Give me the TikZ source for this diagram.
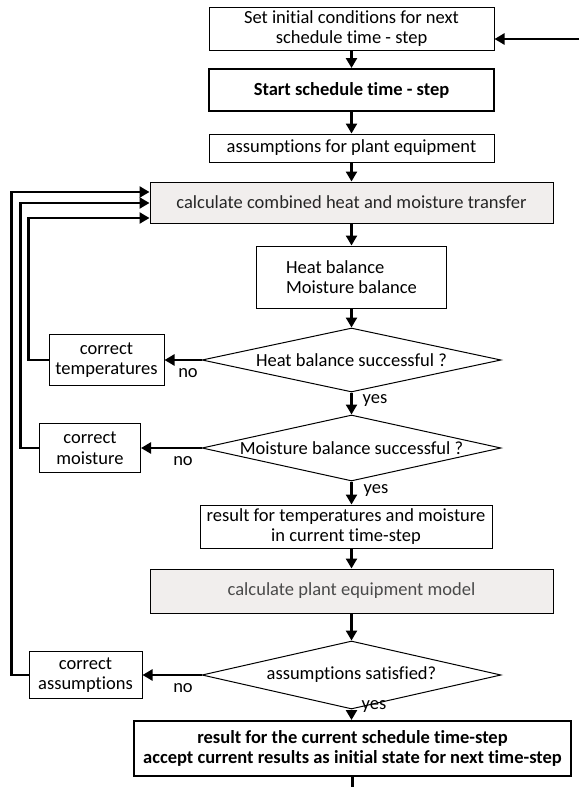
\documentclass[tikz,border=0pt]{standalone}
\usepackage{fontspec}
\setmainfont{Carlito}[Ligatures={NoCommon,NoDiscretionary,NoContextual}]
\usetikzlibrary{arrows.meta,shapes.geometric,calc}
\definecolor{boxgray}{HTML}{F1EEED}
\definecolor{txtdark}{HTML}{262626}
\definecolor{txtgray}{HTML}{4A4A4A}
\begin{document}
\begin{tikzpicture}[x=1pt,y=-1pt,
  every node/.style={font=\fontsize{18.5}{20.5}\selectfont},
  box/.style={draw, line width=1pt, inner sep=0pt, align=center},
  thickbox/.style={box, line width=2pt, font=\fontsize{18.5}{20.5}\selectfont\bfseries},
  greybox/.style={box, fill=boxgray},
  dia/.style={draw, diamond, line width=1pt, inner sep=0pt},
  conn/.style={line width=2.4pt, -{Triangle[length=10pt,width=11pt]}},
  plain/.style={line width=2.4pt},
  lbl/.style={inner sep=0pt}]
\useasboundingbox (0,0) rectangle (579,787);

% main column
\node[box, minimum width=285pt, minimum height=43pt] (b1) at (351.5,28.5) {Set initial conditions for next\\schedule time - step};
\node[thickbox, minimum width=285pt, minimum height=42pt] (b2) at (351.5,90) {Start schedule time - step};
\node[box, minimum width=285pt, minimum height=28pt] (b3) at (351.5,148) {assumptions for plant equipment};
\node[greybox, text=txtdark, minimum width=403pt, minimum height=41pt] (b4) at (351.5,202.5) {calculate combined heat and moisture transfer};
\node[box, align=left, minimum width=190pt, minimum height=62pt] (b5) at (351.5,277) {Heat balance\\Moisture balance};
\node[dia, minimum width=299pt, minimum height=64pt] (d1) at (351.5,360) {};
\node[lbl] (d1t) at (d1) {Heat balance successful ?};
\node[dia, minimum width=299pt, minimum height=66pt] (d2) at (351.5,448) {};
\node[lbl] (d2t) at (d2) {Moisture balance successful ?};
\node[box, minimum width=292pt, minimum height=43pt] (b6) at (346,526.5) {result for temperatures and moisture\\in current time-step};
\node[greybox, text=txtgray, minimum width=403pt, minimum height=44pt] (b7) at (351.5,591) {calculate plant equipment model};
\node[dia, minimum width=299pt, minimum height=68pt] (d3) at (351.5,675) {};
\node[lbl] (d3t) at (d3) {assumptions satisfied?};
\node[thickbox, minimum width=437pt, minimum height=55pt] (fb) at (352.5,748.5) {result for the current schedule time-step\\accept current results as initial state for next time-step};

% correction boxes
\node[box, minimum width=115pt, minimum height=51pt] (ct) at (106.5,360) {correct\\temperatures};
\node[box, minimum width=101pt, minimum height=49pt] (cm) at (90,448) {correct\\moisture};
\node[box, minimum width=113pt, minimum height=47pt] (ca) at (85.5,675) {correct\\assumptions};

% labels
\node[lbl] (no1) at (188,373) {no};
\node[lbl] (no2) at (183,461) {no};
\node[lbl] (no3) at (183,688) {no};
\node[lbl] (yes1) at (375,401) {yes};
\node[lbl] (yes2) at (376,490) {yes};
\node[lbl] (yes3) at (374,706) {yes};

% free ends
\coordinate (in) at (579,39);
\coordinate (out) at (352.5,787);

% main flow
\draw[conn] (in) -- (b1.east |- in);
\draw[conn] (b1.south -| b4) -- (b2.north -| b4);
\draw[conn] (b2.south -| b4) -- (b3.north -| b4);
\draw[conn] (b3.south -| b4) -- (b4.north);
\draw[conn] (b4.south) -- (b5.north);
\draw[conn] (b5.south) -- (d1.north);
\draw[conn] (d1.south) -- (d2.north);
\draw[conn] (d2.south) -- (d2.south |- b6.north);
\draw[conn] (b6.south -| b7) -- (b7.north);
\draw[conn] (b7.south) -- (d3.north);
\draw[conn] (d3.south) -- (d3.south |- fb.north);
\draw[plain] (fb.south -| out) -- (out);

% no branches
\draw[conn] (d1.west) -- (ct.east);
\draw[conn] (d2.west) -- (cm.east);
\draw[conn] (d3.west) -- (ca.east);

% feedback loops
\draw[conn] (ct.west) -- ++(-20,0) |- ($(b4.west)+(0,15.5)$);
\draw[conn] (cm.west) -- ++(-18.5,0) |- ($(b4.west)+(0,0.5)$);
\draw[conn] (ca.west) -- ++(-17,0) |- ($(b4.west)+(0,-10.5)$);
\end{tikzpicture}
\end{document}
